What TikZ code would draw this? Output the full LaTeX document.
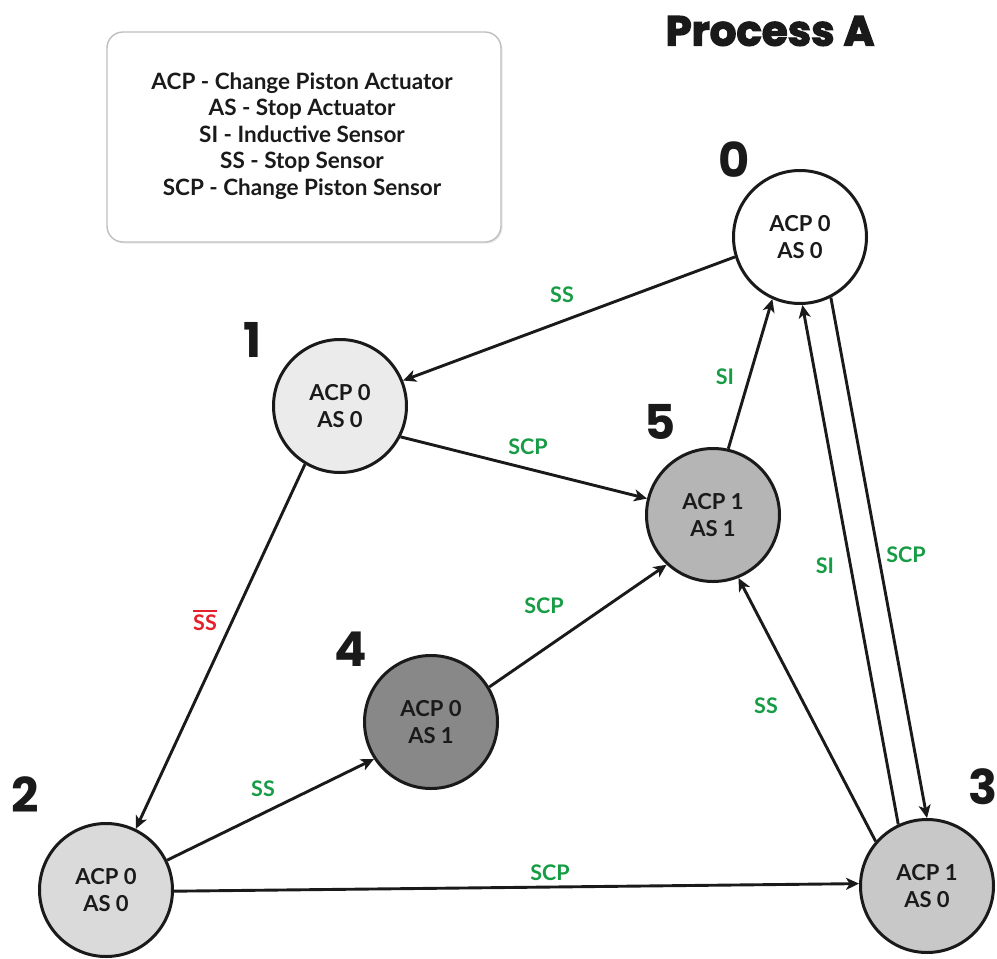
\documentclass[tikz,border=0pt]{standalone}
\usepackage{fontspec}
\setmainfont{Lato}
\newfontfamily\numfont{Poppins}
\newfontfamily\titlefont[BoldFeatures={FakeBold=3}]{Poppins}
\usetikzlibrary{arrows.meta,shadows}
\definecolor{ink}{HTML}{1A1A1A}
\definecolor{lblgreen}{HTML}{179C45}
\definecolor{lblred}{HTML}{E3202B}
\definecolor{fillA}{HTML}{FFFFFF}
\definecolor{fillB}{HTML}{EBEBEB}
\definecolor{fillC}{HTML}{DADADA}
\definecolor{fillD}{HTML}{C8C8C8}
\definecolor{fillE}{HTML}{888888}
\definecolor{fillF}{HTML}{B5B5B5}
% negated condition: text with a bar above it
\newcommand{\negcond}[1]{{\setbox0\hbox{#1}\rlap{\rule[\dimexpr\ht0+2.5pt\relax]{\wd0}{2.2pt}}#1}}
\tikzset{
  state/.style={circle, draw=ink, line width=3pt, minimum size=133pt, inner sep=0pt,
    align=center, font=\fontsize{22}{27}\selectfont\bfseries, text=ink},
  statenum/.style={font=\numfont\bfseries\fontsize{48}{48}\selectfont, text=ink, inner sep=0pt},
  trans/.style={draw=ink, line width=2.9pt, -{Stealth[length=13pt,width=12pt,inset=3.5pt]}},
  cond/.style={font=\fontsize{21.5}{24}\selectfont\bfseries, text=lblgreen, inner sep=1pt},
  legendbox/.style={draw=black!25, line width=1.4pt, rounded corners=16pt, fill=white,
    drop shadow={opacity=0.18, shadow xshift=1.5pt, shadow yshift=-1.5pt}},
}
\begin{document}
\begin{tikzpicture}[x=1pt,y=-1pt]
\useasboundingbox (0,0) rectangle (997,959);

% title
\node[font=\titlefont\bfseries\fontsize{42}{42}\selectfont, text=ink, inner sep=0pt] (title) at (770,31) {Process A};

% legend
\node[legendbox, minimum width=394pt, minimum height=210pt] (legend) at (304,137) {};
\node[align=center, font=\fontsize{22.5}{26.5}\selectfont\bfseries, text=ink] (legtext) at (302,136)
  {ACP - Change Piston Actuator\\AS - Stop Actuator\\SI - Inductive Sensor\\SS - Stop Sensor\\SCP - Change Piston Sensor};

% states
\node[state, fill=fillA] (s0) at (800,237) {ACP 0\\AS 0};
\node[state, fill=fillB] (s1) at (340,406) {ACP 0\\AS 0};
\node[state, fill=fillC] (s2) at (106,890) {ACP 0\\AS 0};
\node[state, fill=fillD] (s3) at (927,886) {ACP 1\\AS 0};
\node[state, fill=fillE] (s4) at (431,722) {ACP 0\\AS 1};
\node[state, fill=fillF] (s5) at (713,515) {ACP 1\\AS 1};

% state numbers
\node[statenum] (n0) at (734,160) {0};
\node[statenum] (n1) at (253,340) {1};
\node[statenum] (n2) at (25,795) {2};
\node[statenum] (n3) at (983,787) {3};
\node[statenum] (n4) at (351,649) {4};
\node[statenum] (n5) at (660,422) {5};

% transitions
\draw[trans] (s0.197) -- (s1.22);
\draw[trans] (s1.-27) -- (s5.166);
\draw[trans] (s5.77) -- (s0.246);
\draw[trans] (s1.239) -- (s2.64);
\draw[trans] (s2.26) -- (s4.213);
\draw[trans] (s4.31) -- (s5.227);
\draw[trans] (s2.-1) -- (s3.178);
\draw[trans] (s3.139) -- (s5.-68);
\draw[trans] (s3.115) -- (s0.-88);
\draw[trans] (s0.-63) -- (s3.90);

% transition conditions
\node[cond] (c01) at (562,295) {SS};
\node[cond] (c15) at (528,447) {SCP};
\node[cond] (c50) at (725,377) {SI};
\node[cond, text=lblred] (c12) at (205,620) {\negcond{SS}};
\node[cond] (c24) at (263,789) {SS};
\node[cond] (c45) at (544,606) {SCP};
\node[cond] (c23) at (550,873) {SCP};
\node[cond] (c35) at (766,706) {SS};
\node[cond] (c30) at (825,566) {SI};
\node[cond] (c03) at (906,555) {SCP};
\end{tikzpicture}
\end{document}
